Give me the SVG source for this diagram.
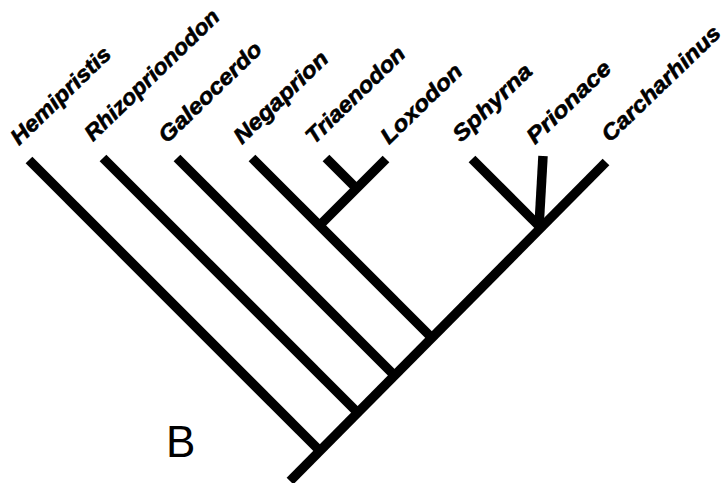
<svg xmlns="http://www.w3.org/2000/svg" width="726" height="483" viewBox="0 0 726 483">
  <style>
    .br { stroke: #000; stroke-width: 9.5; fill: none; stroke-linecap: butt; }
    .tx { font-family: "Liberation Sans", Arial, sans-serif; font-weight: bold; font-style: italic; font-size: 22px; fill: #000; stroke: #000; stroke-width: 0.6; }
    .panel { font-family: "Liberation Sans", Arial, sans-serif; font-size: 44px; fill: #000; }
  </style>
  <rect width="726" height="483" fill="#fff"/>

  <!-- branches of the tree -->
  <g id="connectors">
    <line class="br" x1="606" y1="162" x2="290" y2="481"/>
    <line class="br" x1="29" y1="160" x2="320" y2="451"/>
    <line class="br" x1="103" y1="158" x2="358" y2="413"/>
    <line class="br" x1="177" y1="158" x2="395" y2="376"/>
    <line class="br" x1="252" y1="158" x2="433" y2="339"/>
    <line class="br" x1="386" y1="159" x2="318" y2="227"/>
    <line class="br" x1="326" y1="158" x2="357" y2="189"/>
    <line class="br" x1="472" y1="159" x2="542" y2="229"/>
    <line class="br" x1="543" y1="156" x2="539" y2="227"/>
  </g>

  <!-- taxon labels -->
  <g id="Hemipristis"><text class="tx" transform="translate(19,146) rotate(-44)" textLength="130" lengthAdjust="spacingAndGlyphs">Hemipristis</text></g>
  <g id="Rhizoprionodon"><text class="tx" transform="translate(93,142) rotate(-44)" textLength="178" lengthAdjust="spacingAndGlyphs">Rhizoprionodon</text></g>
  <g id="Galeocerdo"><text class="tx" transform="translate(167,144) rotate(-44)" textLength="134" lengthAdjust="spacingAndGlyphs">Galeocerdo</text></g>
  <g id="Negaprion"><text class="tx" transform="translate(242,145) rotate(-44)" textLength="122" lengthAdjust="spacingAndGlyphs">Negaprion</text></g>
  <g id="Triaenodon"><text class="tx" transform="translate(314,145) rotate(-44)" textLength="129" lengthAdjust="spacingAndGlyphs">Triaenodon</text></g>
  <g id="Loxodon"><text class="tx" transform="translate(389,145) rotate(-44)" textLength="104" lengthAdjust="spacingAndGlyphs">Loxodon</text></g>
  <g id="Sphyrna"><text class="tx" transform="translate(461,143) rotate(-44)" textLength="101" lengthAdjust="spacingAndGlyphs">Sphyrna</text></g>
  <g id="Prionace"><text class="tx" transform="translate(535,145) rotate(-44)" textLength="108" lengthAdjust="spacingAndGlyphs">Prionace</text></g>
  <g id="Carcharhinus"><text class="tx" transform="translate(610,143) rotate(-44)" textLength="156" lengthAdjust="spacingAndGlyphs">Carcharhinus</text></g>

  <!-- panel letter -->
  <g id="panel-label"><text class="panel" x="166" y="457">B</text></g>
</svg>
